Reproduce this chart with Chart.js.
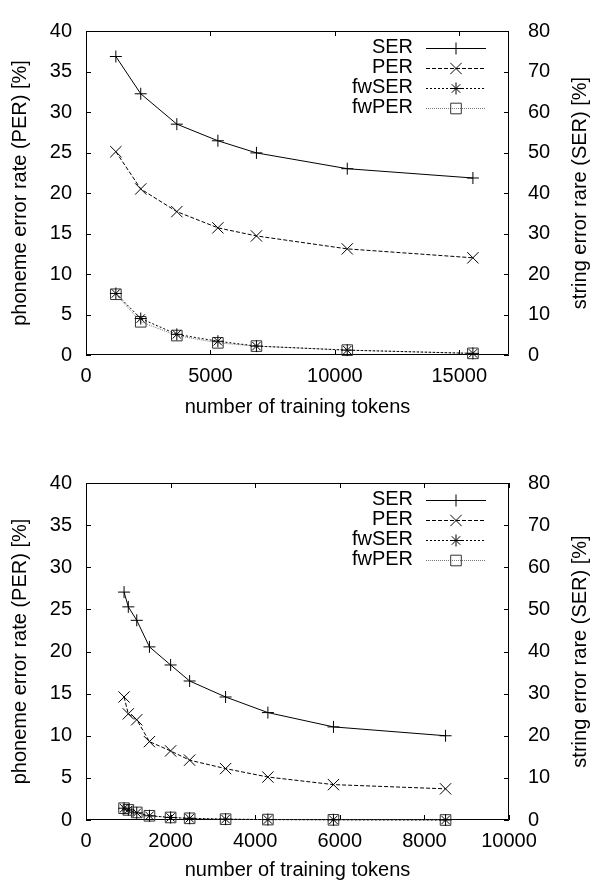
<!DOCTYPE html>
<html><head><meta charset="utf-8">
<script src="https://cdn.jsdelivr.net/npm/chart.js@4/dist/chart.umd.min.js"></script>
<style>
html,body{margin:0;padding:0;background:#fff;}
.w{position:relative;width:592px;height:441px;}
canvas{display:block;}
</style>
</head><body>
<div class="w"><canvas id="c1" width="592" height="441"></canvas></div>
<div class="w"><canvas id="c2" width="592" height="441"></canvas></div>
<script>
// ---- data (top chart) ----
const tokensA = [1200, 2200, 3650, 5300, 6850, 10500, 15550];
const serA    = [73.7, 64.5, 57.0, 52.9, 49.9, 46.0, 43.7];
const perA    = [25.1, 20.5, 17.7, 15.7, 14.7, 13.1, 12.0];
const fwserA  = [15.2, 9.0, 5.1, 3.4, 2.2, 1.2, 0.4];
const fwperA  = [7.5, 4.1, 2.4, 1.5, 1.1, 0.6, 0.2];
// ---- data (bottom chart) ----
const tokensB = [900, 1000, 1200, 1500, 2000, 2450, 3300, 4300, 5850, 8500];
const serB    = [54.1, 50.6, 47.4, 41.1, 36.8, 33.0, 29.2, 25.5, 22.1, 20.0];
const perB    = [14.6, 12.6, 11.9, 9.3, 8.2, 7.1, 6.1, 5.1, 4.2, 3.7];
const fwserB  = [2.8, 2.4, 1.7, 1.0, 0.6, 0.4, 0.2, 0.1, 0.05, 0.0];
const fwperB  = [1.4, 1.2, 0.9, 0.5, 0.3, 0.2, 0.1, 0.05, 0.02, 0.0];
// ---- labels / ticks ----
const seriesLabels = ['SER', 'PER', 'fwSER', 'fwPER'];
const xTicksA = [0, 5000, 10000, 15000];
const xTicksB = [0, 2000, 4000, 6000, 8000, 10000];
const perTicks = [0, 5, 10, 15, 20, 25, 30, 35, 40];
const serTicks = [0, 10, 20, 30, 40, 50, 60, 70, 80];
const xTitle = 'number of training tokens';
const leftTitle = 'phoneme error rate (PER) [%]';
const rightTitle = 'string error rare (SER) [%]';

const FONT = '"Liberation Sans", Arial, Helvetica, sans-serif';
const FS = 20;

function pts(xs, ys){ return xs.map((x,i)=>({x:x, y:ys[i]})); }

function makeDatasets(xs, ser, per, fwser, fwper){
  return [
    {label: seriesLabels[0], data: pts(xs, ser), yAxisID:'y2', borderColor:'#000', borderWidth:1, borderDash:[],
     pointStyle:'cross', pointRadius:6, pointBorderWidth:1, pointBorderColor:'#000', pointBackgroundColor:'#000'},
    {label: seriesLabels[1], data: pts(xs, per), yAxisID:'y', borderColor:'#000', borderWidth:1, borderDash:[4,2],
     pointStyle:'crossRot', pointRadius:8, pointBorderWidth:1, pointBorderColor:'#000', pointBackgroundColor:'#000'},
    {label: seriesLabels[2], data: pts(xs, fwser), yAxisID:'y2', borderColor:'#000', borderWidth:1, borderDash:[2,2],
     pointStyle:'star', pointRadius:6, pointBorderWidth:1, pointBorderColor:'#000', pointBackgroundColor:'#000'},
    {label: seriesLabels[3], data: pts(xs, fwper), yAxisID:'y', borderColor:'#777', borderWidth:1, borderDash:[1,1],
     pointStyle:'rect', pointRadius:7.5, pointBorderWidth:1, pointBorderColor:'#333', pointBackgroundColor:'rgba(0,0,0,0)'}
  ];
}

const framePlugin = {
  id: 'frame',
  beforeDatasetsDraw(chart){
    const {ctx, chartArea:a, scales} = chart;
    ctx.save();
    ctx.strokeStyle = '#000';
    ctx.lineWidth = 1;
    ctx.beginPath();
    ctx.rect(Math.round(a.left)+0.5, Math.round(a.top)+0.5, Math.round(a.right-a.left)-1, Math.round(a.bottom-a.top)-1);
    ctx.stroke();
    const L = 5;
    ctx.beginPath();
    scales.y.ticks.forEach(t=>{
      const p = Math.round(scales.y.getPixelForValue(t.value))+0.5;
      ctx.moveTo(a.left, p); ctx.lineTo(a.left+L, p);
    });
    scales.y2.ticks.forEach(t=>{
      const p = Math.round(scales.y2.getPixelForValue(t.value))+0.5;
      ctx.moveTo(a.right, p); ctx.lineTo(a.right-L, p);
    });
    scales.x.ticks.forEach(t=>{
      const p = Math.round(scales.x.getPixelForValue(t.value))+0.5;
      ctx.moveTo(p, a.bottom); ctx.lineTo(p, a.bottom-L);
      ctx.moveTo(p, a.top); ctx.lineTo(p, a.top+L);
    });
    ctx.stroke();
    // right axis title (reads bottom-to-top)
    ctx.fillStyle = '#000';
    ctx.font = FS + 'px ' + FONT;
    ctx.textAlign = 'center';
    ctx.textBaseline = 'middle';
    ctx.translate(580, (a.top + a.bottom)/2);
    ctx.rotate(-Math.PI/2);
    ctx.fillText(rightTitle, 0, 0);
    ctx.restore();
  },
  afterDatasetsDraw(chart){
    const {ctx, chartArea:a} = chart;
    ctx.save();
    ctx.font = FS + 'px ' + FONT;
    ctx.fillStyle = '#000';
    ctx.textAlign = 'right';
    ctx.textBaseline = 'middle';
    chart.data.datasets.forEach((ds, i)=>{
      const y = a.top + 16.5 + i*20;
      ctx.fillText(ds.label, 413, y);
      ctx.save();
      ctx.strokeStyle = ds.borderColor;
      ctx.lineWidth = ds.borderWidth;
      ctx.setLineDash(ds.borderDash);
      ctx.beginPath();
      ctx.moveTo(426, Math.round(y)+0.5); ctx.lineTo(486, Math.round(y)+0.5);
      ctx.stroke();
      ctx.setLineDash([]);
      ctx.strokeStyle = ds.pointBorderColor;
      ctx.fillStyle = ds.pointBackgroundColor;
      Chart.helpers.drawPoint(ctx, {pointStyle: ds.pointStyle, radius: ds.pointRadius, borderWidth: ds.pointBorderWidth, rotation: 0}, 456, Math.round(y)+0.5);
      ctx.restore();
    });
    ctx.restore();
  }
};

function makeChart(id, xs, ser, per, fwser, fwper, xmax, xticks, padTop, xAxisH, xTitlePad){
  return new Chart(document.getElementById(id), {
    type: 'line',
    data: { datasets: makeDatasets(xs, ser, per, fwser, fwper) },
    options: {
      responsive: false,
      animation: false,
      devicePixelRatio: 1,
      layout: { padding: { top: padTop, left: 0, right: 0, bottom: 0 } },
      elements: { line: { tension: 0, fill: false } },
      datasets: { line: { clip: false } },
      plugins: { legend: { display: false }, tooltip: { enabled: false } },
      scales: {
        x: {
          type: 'linear', position: 'bottom', min: 0, max: xmax,
          afterBuildTicks: s => { s.ticks = xticks.map(v=>({value:v})); },
          afterFit: s => { s.height = xAxisH; },
          grid: { display: false, drawTicks: false },
          border: { display: false },
          ticks: { color:'#000', padding: 9, maxRotation: 0, autoSkip: false, font:{family:FONT, size:FS}, callback: v => String(v) },
          title: { display: true, text: xTitle, color:'#000', font:{family:FONT, size:FS}, padding:{top:0, bottom:xTitlePad} }
        },
        y: {
          type: 'linear', position: 'left', min: 0, max: 40,
          afterBuildTicks: s => { s.ticks = perTicks.map(v=>({value:v})); },
          afterFit: s => { s.width = 86; },
          grid: { display: false, drawTicks: false },
          border: { display: false },
          ticks: { color:'#000', padding: 14, font:{family:FONT, size:FS}, callback: v => String(v) },
          title: { display: true, text: leftTitle, color:'#000', font:{family:FONT, size:FS}, padding:{top:8, bottom:0} }
        },
        y2: {
          type: 'linear', position: 'right', min: 0, max: 80,
          afterBuildTicks: s => { s.ticks = serTicks.map(v=>({value:v})); },
          afterFit: s => { s.width = 83; },
          grid: { display: false, drawTicks: false },
          border: { display: false },
          ticks: { color:'#000', padding: 19, font:{family:FONT, size:FS}, callback: v => String(v) }
        }
      }
    },
    plugins: [framePlugin]
  });
}

makeChart('c1', tokensA, serA, perA, fwserA, fwperA, 17000, xTicksA, 16, 86, 22);
makeChart('c2', tokensB, serB, perB, fwserB, fwperB, 10000, xTicksB, 42, 62, 0);
</script>
</body></html>
